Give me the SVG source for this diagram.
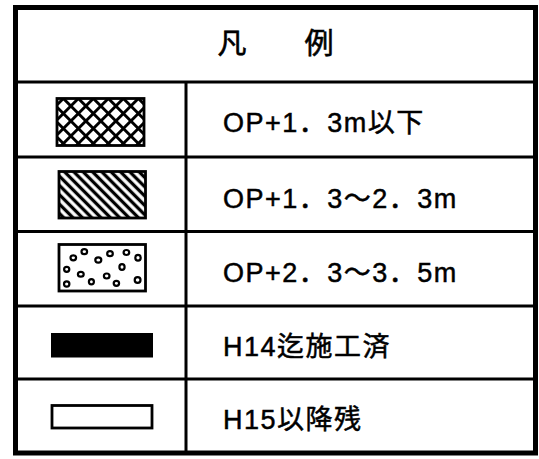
<svg xmlns="http://www.w3.org/2000/svg" width="539" height="459" viewBox="0 0 539 459">
  <style>
    .txt { font-family: "Liberation Sans", "Noto Sans CJK JP", sans-serif; font-size: 27px; letter-spacing: 1.5px; fill: #000; stroke: #000; stroke-width: 0.5px; }
    .hdr { font-family: "Noto Sans CJK JP", sans-serif; font-size: 29px; fill: #000; stroke: #000; stroke-width: 0.6px; }
    .line { stroke: #000; stroke-width: 3; fill: none; }
    .sw { stroke: #000; stroke-width: 2.8; }
    .dot { fill: #fff; stroke: #000; stroke-width: 2.2; }
  </style>
  <defs>
    <pattern id="cross" patternUnits="userSpaceOnUse" x="3.04" y="-1.62" width="10.607" height="10.607" patternTransform="rotate(45)">
      <rect width="10.607" height="10.607" fill="#fff"/>
      <path d="M5.3,0 V10.607 M0,5.3 H10.607" stroke="#000" stroke-width="2.9"/>
    </pattern>
    <pattern id="diag" patternUnits="userSpaceOnUse" width="6.6" height="6.6" patternTransform="rotate(45)">
      <rect width="6.6" height="6.6" fill="#fff"/>
      <path d="M0,3.3 H6.6" stroke="#000" stroke-width="3.3"/>
    </pattern>
  </defs>
  <rect x="0" y="0" width="539" height="459" fill="#fff"/>

  <g id="frame">
    <rect x="15.5" y="7.5" width="520" height="445.5" fill="none" stroke="#000" stroke-width="5"/>
    <line class="line" x1="15" y1="82" x2="536" y2="82"/>
    <line class="line" x1="15" y1="157" x2="536" y2="157"/>
    <line class="line" x1="15" y1="231.5" x2="536" y2="231.5"/>
    <line class="line" x1="15" y1="306" x2="536" y2="306"/>
    <line class="line" x1="15" y1="379" x2="536" y2="379"/>
    <line class="line" x1="186" y1="82" x2="186" y2="453"/>
  </g>

  <g id="header">
    <text class="hdr" x="275.5" y="54" text-anchor="middle">凡　　例</text>
  </g>

  <g id="row1">
    <rect class="sw" x="57" y="98.5" width="87" height="47" fill="url(#cross)"/>
    <text class="txt" x="223" y="132">OP+1．3m以下</text>
  </g>

  <g id="row2">
    <rect class="sw" x="59" y="171.5" width="86.5" height="46.5" fill="url(#diag)"/>
    <text class="txt" x="223" y="207.5">OP+1．3～2．3m</text>
  </g>

  <g id="row3">
    <rect class="sw" x="59" y="244.5" width="86.5" height="46.5" fill="#fff"/>
    <g>
      <ellipse class="dot" cx="73.3" cy="257.8" rx="2.8" ry="2.5"/>
      <ellipse class="dot" cx="84.3" cy="251.7" rx="2.8" ry="2.5"/>
      <ellipse class="dot" cx="98.3" cy="260" rx="3" ry="2.6"/>
      <ellipse class="dot" cx="110" cy="253.7" rx="2.8" ry="2.5"/>
      <ellipse class="dot" cx="126.4" cy="252.5" rx="2.8" ry="2.5"/>
      <ellipse class="dot" cx="138" cy="257.8" rx="2.7" ry="2.9"/>
      <ellipse class="dot" cx="66.7" cy="269.3" rx="2.6" ry="2.5"/>
      <ellipse class="dot" cx="80.8" cy="274.3" rx="2.9" ry="2.4"/>
      <ellipse class="dot" cx="91.4" cy="281.8" rx="2.5" ry="2.6"/>
      <ellipse class="dot" cx="106.7" cy="276" rx="2.8" ry="2.5"/>
      <ellipse class="dot" cx="122" cy="267" rx="2.6" ry="2.9"/>
      <ellipse class="dot" cx="116.4" cy="283.3" rx="2.7" ry="2.5"/>
      <ellipse class="dot" cx="137.6" cy="280" rx="2.9" ry="2.8"/>
      <ellipse class="dot" cx="66.7" cy="284" rx="2.7" ry="2.6"/>
    </g>
    <text class="txt" x="223" y="282">OP+2．3～3．5m</text>
  </g>

  <g id="row4">
    <rect x="51" y="333" width="102" height="24.5" fill="#000"/>
    <text class="txt" x="223" y="355.5">H14迄施工済</text>
  </g>

  <g id="row5">
    <rect class="sw" x="52" y="405.5" width="100" height="22.5" fill="#fff"/>
    <text class="txt" x="223" y="429">H15以降残</text>
  </g>
</svg>
